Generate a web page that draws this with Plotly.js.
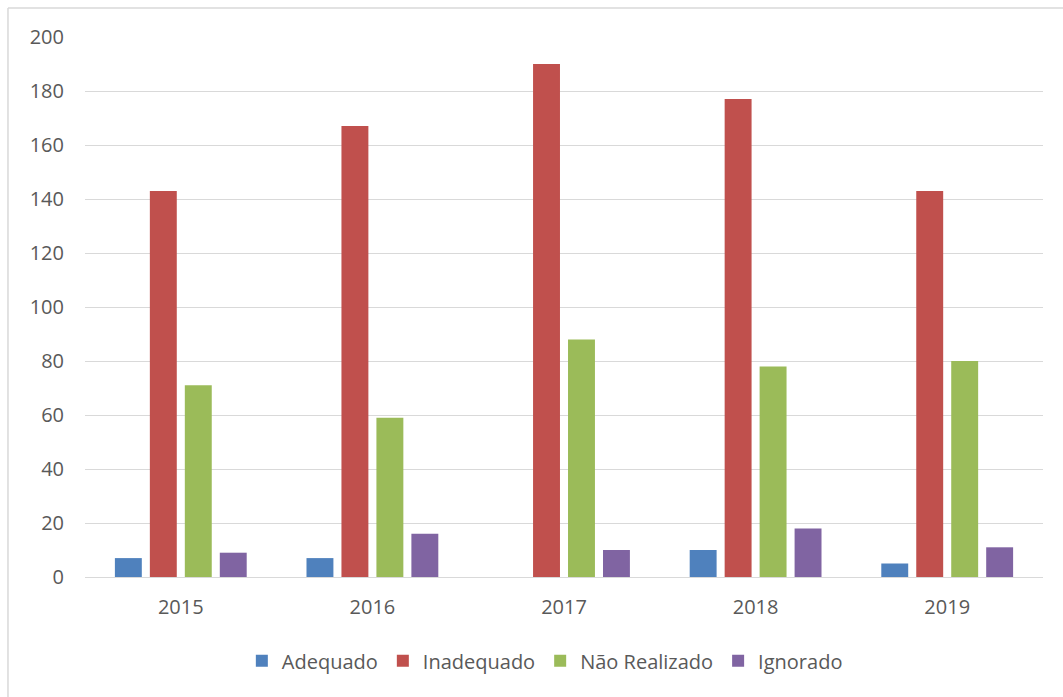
<!DOCTYPE html>
<html>
<head>
<meta charset="utf-8">
<script src="https://cdn.plot.ly/plotly-3.0.1.min.js"></script>
<style>body{margin:0;background:#fff}#chart{width:1063px;height:697px}</style>
</head>
<body>
<div id="chart"></div>
<script>
const years = ['2015', '2016', '2017', '2018', '2019'];
const adequado = [7, 7, 0, 10, 5];
const inadequado = [143, 167, 190, 177, 143];
const naoRealizado = [71, 59, 88, 78, 80];
const ignorado = [9, 16, 10, 18, 11];
const seriesNames = ['Adequado', 'Inadequado', 'Não Realizado', 'Ignorado'];
const colors = ['#4F81BD', '#C0504D', '#9BBB59', '#8064A2'];
const yTicks = [0, 20, 40, 60, 80, 100, 120, 140, 160, 180, 200];

const values = [adequado, inadequado, naoRealizado, ignorado];
const traces = values.map((v, i) => ({
  type: 'bar', x: years, y: v, name: seriesNames[i],
  marker: {color: colors[i]}, hoverinfo: 'x+y+name'
}));

const font = {family: 'Open Sans, Noto Sans, sans-serif', size: 20, color: '#595959'};
const layout = {
  width: 1063, height: 697,
  margin: {l: 85, r: 20, t: 37, b: 120},
  paper_bgcolor: '#fff', plot_bgcolor: '#fff',
  font: font,
  barmode: 'group', bargap: 0.27, bargroupgap: 0.23,
  showlegend: true,
  legend: {orientation: 'h', x: 0.48, xanchor: 'center', y: -0.155, yanchor: 'middle',
           font: {family: font.family, size: 20, color: '#595959'}, itemwidth: 30, traceorder: 'normal'},
  xaxis: {type: 'category', showgrid: false, zeroline: false, showline: true, linecolor: '#d9d9d9', linewidth: 1,
          ticks: '', ticklabelstandoff: 12, tickfont: font},
  yaxis: {range: [0, 200], tickvals: yTicks, showgrid: true, gridcolor: '#d9d9d9', gridwidth: 1,
          zeroline: false, showline: false, ticks: '', ticklabelstandoff: 20, tickfont: font},
  shapes: [
    {type: 'line', xref: 'paper', yref: 'paper', x0: -0.0804, x1: -0.0804, y0: 1.0537, y1: -0.23,
     line: {color: '#d9d9d9', width: 1.5}},
    {type: 'line', xref: 'paper', yref: 'paper', x0: -0.0804, x1: 1.03, y0: 1.0537, y1: 1.0537,
     line: {color: '#d9d9d9', width: 1.5}}
  ]
};
Plotly.newPlot('chart', traces, layout, {displayModeBar: false, responsive: false});
</script>
</body>
</html>
